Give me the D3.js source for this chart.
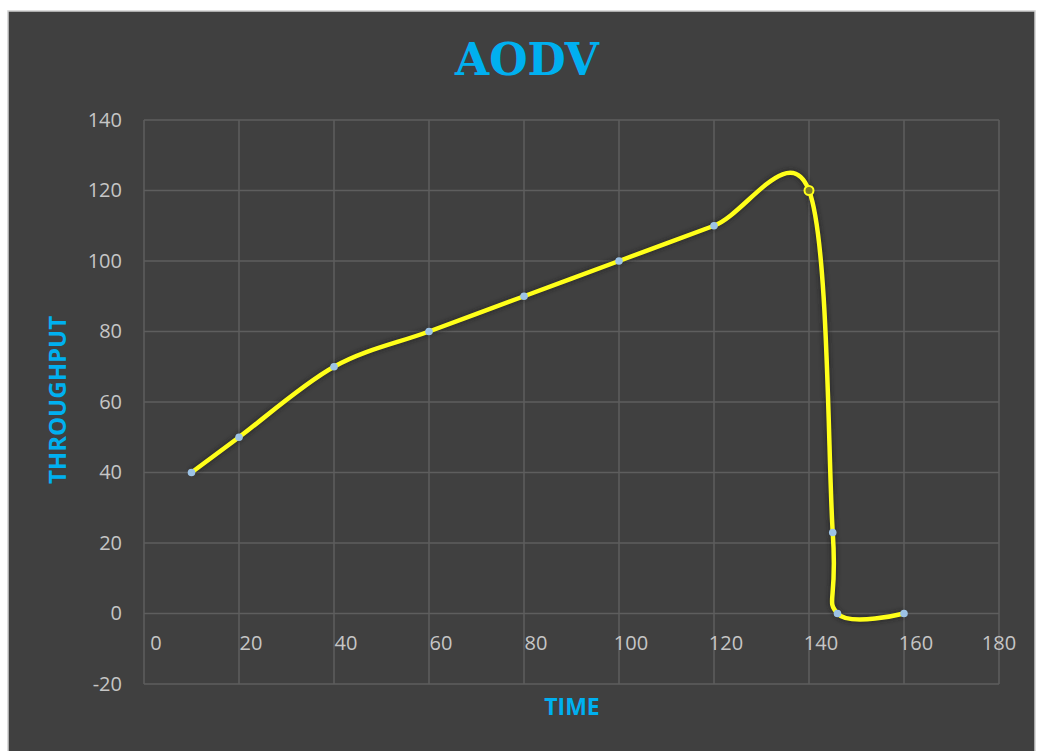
<!DOCTYPE html>
<html>
<head>
<meta charset="utf-8">
<script src="https://cdn.jsdelivr.net/npm/d3@7/dist/d3.min.js"></script>
<style>
  html, body { margin: 0; padding: 0; background: #ffffff; }
  svg { display: block; }
</style>
</head>
<body>
<script>
// AODV throughput over time
const time       = [10, 20, 40, 60, 80, 100, 120, 140, 145, 146, 160];
const throughput = [40, 50, 70, 80, 90, 100, 110, 120, 23, 0, 0];
const xTicks = [0, 20, 40, 60, 80, 100, 120, 140, 160, 180];
const yTicks = [-20, 0, 20, 40, 60, 80, 100, 120, 140];

const W = 1037, H = 751;
const plot = { left: 144, right: 999, top: 120, bottom: 684 };
const blue = "#00b0f0";

const svg = d3.select("body").append("svg").attr("width", W).attr("height", H);

// chart panel
svg.append("rect").attr("x", 8).attr("y", 11).attr("width", 1027).attr("height", H)
  .attr("fill", "#404040").attr("stroke", "#cfcfcf").attr("stroke-width", 1.5);

const x = d3.scaleLinear().domain([0, 180]).range([plot.left, plot.right]);
const y = d3.scaleLinear().domain([-20, 140]).range([plot.bottom, plot.top]);

// gridlines
const grid = svg.append("g").attr("stroke", "#5e5e5e").attr("stroke-width", 1.5);
grid.selectAll(".vg").data(xTicks).join("line")
  .attr("x1", d => x(d)).attr("x2", d => x(d))
  .attr("y1", plot.top).attr("y2", plot.bottom);
grid.selectAll(".hg").data(yTicks).join("line")
  .attr("x1", plot.left).attr("x2", plot.right)
  .attr("y1", d => y(d)).attr("y2", d => y(d));

const plain = d => String(d);

// y axis labels
const yAxis = d3.axisLeft(y).tickValues(yTicks).tickFormat(plain).tickSize(0).tickPadding(22);
svg.append("g").attr("transform", `translate(${plot.left},0)`).call(yAxis)
  .call(g => g.select(".domain").remove())
  .call(g => g.selectAll("text").attr("fill", "#c6c6c6")
    .style("font-family", "'Open Sans', sans-serif").style("font-size", "20px"));

// x axis labels sit just under the zero line
const xAxis = d3.axisBottom(x).tickValues(xTicks).tickFormat(plain).tickSize(0).tickPadding(22);
svg.append("g").attr("transform", `translate(0,${y(0)})`).call(xAxis)
  .call(g => g.select(".domain").remove())
  .call(g => g.selectAll(".tick").attr("transform", d =>
      `translate(${d === 180 ? x(d) : x(d) + 12},0)`))
  .call(g => g.selectAll("text").attr("fill", "#c6c6c6")
    .style("font-family", "'Open Sans', sans-serif").style("font-size", "20px"));

// smoothed series line
const pts = time.map((t, i) => [t, throughput[i]]);
const line = d3.line().x(d => x(d[0])).y(d => y(d[1])).curve(d3.curveCardinal.tension(0));

const defs = svg.append("defs");
defs.append("filter").attr("id", "shade").attr("x", "-5%").attr("y", "-5%")
  .attr("width", "110%").attr("height", "110%")
  .append("feGaussianBlur").attr("stdDeviation", 2);

svg.append("path").datum(pts).attr("d", line).attr("fill", "none")
  .attr("stroke", "#1e1e1e").attr("stroke-width", 7).attr("opacity", 0.6)
  .attr("filter", "url(#shade)");
svg.append("path").datum(pts).attr("d", line).attr("fill", "none")
  .attr("stroke", "#ffff1a").attr("stroke-width", 4.5).attr("stroke-linejoin", "round");

// markers
svg.append("g").selectAll("circle").data(pts).join("circle")
  .attr("cx", d => x(d[0])).attr("cy", d => y(d[1]))
  .attr("r", d => d[0] === 140 ? 4.5 : 3.8)
  .attr("fill", d => d[0] === 140 ? "#7a7a2a" : "#9dc3e6")
  .attr("stroke", d => d[0] === 140 ? "#ffff1a" : "none")
  .attr("stroke-width", 2);

// title
svg.append("text").attr("x", 527).attr("y", 75).attr("text-anchor", "middle")
  .attr("fill", blue).style("font-family", "'DejaVu Serif', serif")
  .style("font-weight", "bold").style("font-size", "44px").text("AODV");

// axis titles
svg.append("text").attr("x", 572).attr("y", 715).attr("text-anchor", "middle")
  .attr("fill", blue).style("font-family", "'Open Sans', sans-serif")
  .style("font-weight", "bold").style("font-size", "23px").text("TIME");

svg.append("text").attr("transform", "translate(66,400) rotate(-90)")
  .attr("text-anchor", "middle").attr("fill", blue)
  .style("font-family", "'Open Sans', sans-serif")
  .style("font-weight", "bold").style("font-size", "24px").text("THROUGHPUT");
</script>
</body>
</html>
